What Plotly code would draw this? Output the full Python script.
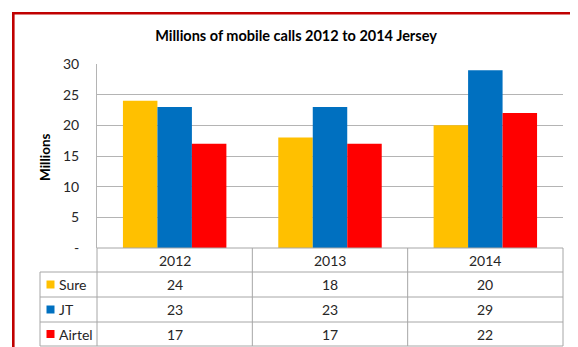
import plotly.graph_objects as go

# ---- data ----
years = ["2012", "2013", "2014"]
series_names = ["Sure", "JT", "Airtel"]
sure = [24, 18, 20]
jt = [23, 23, 29]
airtel = [17, 17, 22]
series_values = [sure, jt, airtel]
series_colors = ["#FFC000", "#0070C0", "#FF0000"]
ytick_vals = [0, 5, 10, 15, 20, 25, 30]
ytick_text = ["-", "5", "10", "15", "20", "25", "30"]
title_text = "Millions of mobile calls 2012 to 2014 Jersey"
ytitle_text = "Millions"

FONT = "Lato, 'Open Sans', sans-serif"
GRID = "#B4B4B4"
TBL = "#A6A6A6"
TXT = "#262626"

# page geometry (page pixels); the html body has an 8px margin
OFF = 8
W_PAGE, H_PAGE = 578, 347
W_FIG, H_FIG = W_PAGE - OFF, H_PAGE - OFF
L, R, T, B = 97, 563, 64, 248
PW, PH = R - L, B - T


def px(p):
    return (p - L) / PW


def py(p):
    return (B - p) / PH


fig = go.Figure()
for name, vals, col in zip(series_names, series_values, series_colors):
    fig.add_trace(go.Bar(x=years, y=vals, name=name, marker=dict(color=col, line=dict(width=0))))

shapes = []
annotations = []

# outer red chart border (partly outside the window)
shapes.append(dict(type="rect", xref="paper", yref="paper",
                   x0=px(13.3), x1=px(640), y0=py(13.3), y1=py(400),
                   line=dict(color="#C00000", width=2.6), fillcolor="rgba(0,0,0,0)", layer="above"))

# table geometry
row_lines = [248, 272, 297, 322, 346]
legend_left = 40
n = len(years)
cat_w = PW / n
col_edges = [L + k * cat_w for k in range(n + 1)]

for i, yl in enumerate(row_lines):
    x0 = L if i == 0 else legend_left
    shapes.append(dict(type="line", xref="paper", yref="paper", x0=px(x0), x1=px(R),
                       y0=py(yl), y1=py(yl), line=dict(color=TBL, width=1)))
for xe in col_edges:
    shapes.append(dict(type="line", xref="paper", yref="paper", x0=px(xe), x1=px(xe),
                       y0=py(248), y1=py(346), line=dict(color=TBL, width=1)))
shapes.append(dict(type="line", xref="paper", yref="paper", x0=px(legend_left), x1=px(legend_left),
                   y0=py(272), y1=py(346), line=dict(color=TBL, width=1)))

for k, yr in enumerate(years):
    cx = (col_edges[k] + col_edges[k + 1]) / 2
    annotations.append(dict(xref="paper", yref="paper", x=px(cx), y=py((row_lines[0] + row_lines[1]) / 2),
                            text=yr, showarrow=False, xanchor="center", yanchor="middle",
                            font=dict(family=FONT, size=14, color=TXT)))

for r, (name, vals, col) in enumerate(zip(series_names, series_values, series_colors)):
    cy = (row_lines[r + 1] + row_lines[r + 2]) / 2
    shapes.append(dict(type="rect", xref="paper", yref="paper", x0=px(46.5), x1=px(54.5),
                       y0=py(cy - 4), y1=py(cy + 4), fillcolor=col, line=dict(width=0)))
    annotations.append(dict(xref="paper", yref="paper", x=px(57), y=py(cy), text=name,
                            showarrow=False, xanchor="left", yanchor="middle",
                            font=dict(family=FONT, size=14, color=TXT)))
    for k, v in enumerate(vals):
        cx = (col_edges[k] + col_edges[k + 1]) / 2
        annotations.append(dict(xref="paper", yref="paper", x=px(cx), y=py(cy), text=str(v),
                                showarrow=False, xanchor="center", yanchor="middle",
                                font=dict(family=FONT, size=14, color=TXT)))

annotations.append(dict(xref="paper", yref="paper", x=px(45), y=py(157), text="<b>" + ytitle_text + "</b>",
                        textangle=-90, showarrow=False, xanchor="center", yanchor="middle",
                        font=dict(family=FONT, size=13.5, color="#000000")))

fig.update_layout(
    width=W_FIG, height=H_FIG,
    margin=dict(l=L - OFF, r=W_PAGE - R, t=T - OFF, b=H_PAGE - B, pad=0),
    paper_bgcolor="white", plot_bgcolor="white",
    showlegend=False,
    barmode="group", bargap=0.334, bargroupgap=0,
    title=dict(text="<b>" + title_text + "</b>", x=(296 - OFF) / W_FIG, xanchor="center",
               y=1 - (36 - OFF) / H_FIG, yanchor="middle", yref="container",
               font=dict(family=FONT, size=14.5, color="#000000")),
    xaxis=dict(showticklabels=False, showgrid=False, zeroline=False, showline=False, ticks=""),
    yaxis=dict(range=[0, 30], tickvals=ytick_vals, ticktext=ytick_text, showgrid=True,
               gridcolor=GRID, gridwidth=1, zeroline=False, showline=True, linecolor=GRID,
               linewidth=1, ticks="", ticklabelstandoff=14,
               tickfont=dict(family=FONT, size=14, color=TXT)),
    shapes=shapes, annotations=annotations,
)

fig.write_html("out.html")
